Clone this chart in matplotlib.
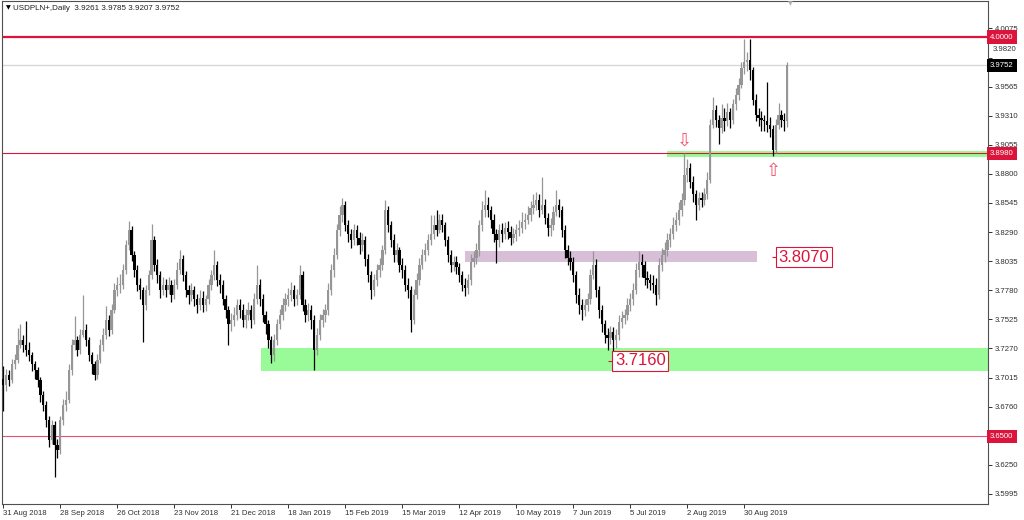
"""
USDPLN+ Daily - candles with support/resistance zones (MT4 look)
"""

import numpy as np
import matplotlib
matplotlib.use('Agg')
import matplotlib.pyplot as plt
from matplotlib.patches import Rectangle
import matplotlib.transforms as mtransforms


# Candle data (daily bars)
first_open = 3.700
closes = [
    3.695, 3.704, 3.699, 3.713, 3.717, 3.730, 3.734, 3.730, 3.726, 3.721,
    3.713, 3.708, 3.699, 3.686, 3.677, 3.664, 3.647, 3.660, 3.642, 3.638,
    3.664, 3.677, 3.682, 3.708, 3.730, 3.734, 3.726, 3.739, 3.743, 3.734,
    3.721, 3.713, 3.704, 3.717, 3.730, 3.739, 3.752, 3.743, 3.761, 3.778,
    3.783, 3.783, 3.796, 3.818, 3.831, 3.809, 3.796, 3.783, 3.778, 3.765,
    3.778, 3.791, 3.822, 3.800, 3.791, 3.778, 3.783, 3.778, 3.783, 3.774,
    3.783, 3.796, 3.805, 3.791, 3.778, 3.774, 3.778, 3.770, 3.765, 3.771,
    3.765, 3.770, 3.783, 3.791, 3.800, 3.787, 3.783, 3.770, 3.761, 3.748,
    3.752, 3.756, 3.765, 3.761, 3.752, 3.756, 3.761, 3.752, 3.770, 3.783,
    3.770, 3.756, 3.748, 3.734, 3.721, 3.734, 3.748, 3.756, 3.765, 3.770,
    3.774, 3.778, 3.770, 3.774, 3.791, 3.765, 3.756, 3.761, 3.752, 3.726,
    3.739, 3.752, 3.756, 3.761, 3.778, 3.796, 3.809, 3.831, 3.844, 3.853,
    3.835, 3.827, 3.822, 3.831, 3.824, 3.818, 3.822, 3.805, 3.791, 3.778,
    3.787, 3.796, 3.800, 3.813, 3.848, 3.835, 3.822, 3.809, 3.813, 3.800,
    3.796, 3.783, 3.778, 3.752, 3.774, 3.787, 3.800, 3.809, 3.813, 3.822,
    3.827, 3.835, 3.831, 3.840, 3.835, 3.822, 3.809, 3.800, 3.803, 3.798,
    3.791, 3.783, 3.780, 3.787, 3.803, 3.806, 3.813, 3.835, 3.848, 3.853,
    3.848, 3.840, 3.827, 3.822, 3.831, 3.827, 3.833, 3.829, 3.824, 3.827,
    3.831, 3.833, 3.838, 3.840, 3.844, 3.850, 3.853, 3.857, 3.848, 3.853,
    3.841, 3.833, 3.835, 3.847, 3.853, 3.848, 3.831, 3.813, 3.806, 3.803,
    3.791, 3.774, 3.765, 3.761, 3.765, 3.770, 3.791, 3.800, 3.778, 3.761,
    3.748, 3.739, 3.736, 3.741, 3.734, 3.739, 3.750, 3.754, 3.756, 3.765,
    3.770, 3.778, 3.796, 3.803, 3.800, 3.789, 3.787, 3.784, 3.783, 3.774,
    3.800, 3.809, 3.813, 3.822, 3.827, 3.835, 3.840, 3.848, 3.857, 3.879,
    3.885, 3.873, 3.862, 3.853, 3.859, 3.857, 3.862, 3.875, 3.923, 3.936,
    3.927, 3.920, 3.929, 3.926, 3.934, 3.927, 3.941, 3.949, 3.958, 3.973,
    3.978, 3.980, 3.971, 3.945, 3.932, 3.929, 3.927, 3.926, 3.923, 3.919,
    3.901, 3.923, 3.932, 3.927, 3.9261, 3.9752,
]
highs = [
    3.712, 3.709, 3.708, 3.718, 3.722, 3.745, 3.748, 3.739, 3.751, 3.733,
    3.724, 3.716, 3.711, 3.702, 3.690, 3.681, 3.668, 3.664, 3.663, 3.648,
    3.668, 3.683, 3.690, 3.713, 3.735, 3.755, 3.738, 3.744, 3.774, 3.748,
    3.737, 3.724, 3.716, 3.722, 3.735, 3.745, 3.764, 3.756, 3.766, 3.784,
    3.790, 3.792, 3.801, 3.822, 3.839, 3.834, 3.812, 3.800, 3.789, 3.781,
    3.783, 3.796, 3.836, 3.826, 3.805, 3.795, 3.790, 3.788, 3.790, 3.787,
    3.788, 3.803, 3.813, 3.809, 3.795, 3.783, 3.784, 3.782, 3.775, 3.778,
    3.777, 3.774, 3.788, 3.796, 3.813, 3.804, 3.792, 3.787, 3.774, 3.764,
    3.758, 3.763, 3.770, 3.770, 3.766, 3.762, 3.768, 3.765, 3.776, 3.800,
    3.788, 3.775, 3.760, 3.752, 3.738, 3.740, 3.753, 3.762, 3.771, 3.776,
    3.780, 3.785, 3.783, 3.779, 3.800, 3.795, 3.770, 3.767, 3.765, 3.756,
    3.745, 3.757, 3.762, 3.766, 3.784, 3.801, 3.815, 3.836, 3.852, 3.859,
    3.856, 3.840, 3.832, 3.836, 3.835, 3.829, 3.828, 3.826, 3.810, 3.795,
    3.792, 3.801, 3.806, 3.818, 3.857, 3.852, 3.839, 3.827, 3.819, 3.816,
    3.806, 3.800, 3.789, 3.782, 3.779, 3.793, 3.806, 3.814, 3.819, 3.827,
    3.844, 3.844, 3.848, 3.845, 3.845, 3.838, 3.826, 3.813, 3.808, 3.808,
    3.802, 3.795, 3.789, 3.792, 3.810, 3.812, 3.819, 3.840, 3.856, 3.866,
    3.860, 3.852, 3.845, 3.832, 3.836, 3.837, 3.838, 3.839, 3.834, 3.833,
    3.836, 3.840, 3.847, 3.846, 3.852, 3.856, 3.862, 3.864, 3.862, 3.877,
    3.858, 3.846, 3.841, 3.852, 3.866, 3.858, 3.852, 3.835, 3.818, 3.812,
    3.807, 3.795, 3.780, 3.770, 3.770, 3.776, 3.797, 3.812, 3.805, 3.782,
    3.765, 3.752, 3.745, 3.747, 3.746, 3.744, 3.756, 3.760, 3.762, 3.771,
    3.776, 3.784, 3.802, 3.812, 3.810, 3.804, 3.795, 3.792, 3.791, 3.789,
    3.806, 3.815, 3.820, 3.828, 3.833, 3.842, 3.847, 3.855, 3.863, 3.898,
    3.893, 3.890, 3.878, 3.866, 3.864, 3.864, 3.868, 3.882, 3.928, 3.947,
    3.940, 3.932, 3.941, 3.938, 3.942, 3.938, 3.946, 3.955, 3.964, 3.978,
    3.998, 3.987, 3.998, 3.974, 3.950, 3.938, 3.935, 3.932, 3.961, 3.930,
    3.923, 3.928, 3.942, 3.936, 3.933, 3.9785,
]
lows = [
    3.672, 3.690, 3.694, 3.697, 3.709, 3.714, 3.727, 3.724, 3.720, 3.716,
    3.707, 3.700, 3.693, 3.680, 3.672, 3.658, 3.641, 3.643, 3.614, 3.631,
    3.634, 3.660, 3.672, 3.679, 3.704, 3.726, 3.720, 3.722, 3.737, 3.729,
    3.716, 3.705, 3.699, 3.700, 3.714, 3.725, 3.735, 3.738, 3.740, 3.758,
    3.773, 3.776, 3.779, 3.792, 3.813, 3.804, 3.790, 3.777, 3.770, 3.733,
    3.761, 3.774, 3.788, 3.795, 3.784, 3.771, 3.774, 3.772, 3.775, 3.768,
    3.770, 3.779, 3.792, 3.786, 3.772, 3.766, 3.769, 3.764, 3.758, 3.761,
    3.759, 3.760, 3.766, 3.778, 3.787, 3.782, 3.776, 3.765, 3.754, 3.730,
    3.742, 3.747, 3.752, 3.754, 3.746, 3.745, 3.752, 3.745, 3.748, 3.766,
    3.764, 3.750, 3.740, 3.727, 3.714, 3.716, 3.730, 3.744, 3.752, 3.760,
    3.764, 3.769, 3.764, 3.765, 3.770, 3.760, 3.750, 3.751, 3.744, 3.708,
    3.721, 3.734, 3.746, 3.750, 3.756, 3.774, 3.790, 3.805, 3.826, 3.838,
    3.830, 3.820, 3.815, 3.818, 3.818, 3.810, 3.812, 3.799, 3.785, 3.770,
    3.773, 3.782, 3.790, 3.796, 3.810, 3.829, 3.816, 3.803, 3.803, 3.794,
    3.789, 3.777, 3.771, 3.741, 3.748, 3.770, 3.783, 3.797, 3.804, 3.809,
    3.818, 3.823, 3.826, 3.828, 3.829, 3.817, 3.803, 3.794, 3.795, 3.792,
    3.785, 3.777, 3.773, 3.775, 3.783, 3.798, 3.801, 3.808, 3.830, 3.842,
    3.842, 3.833, 3.820, 3.802, 3.816, 3.820, 3.823, 3.823, 3.818, 3.819,
    3.821, 3.826, 3.828, 3.832, 3.836, 3.839, 3.845, 3.848, 3.842, 3.845,
    3.836, 3.826, 3.826, 3.831, 3.843, 3.842, 3.825, 3.806, 3.800, 3.796,
    3.785, 3.767, 3.757, 3.752, 3.755, 3.760, 3.766, 3.788, 3.772, 3.754,
    3.741, 3.732, 3.726, 3.731, 3.724, 3.727, 3.734, 3.745, 3.748, 3.752,
    3.760, 3.765, 3.775, 3.790, 3.790, 3.783, 3.780, 3.778, 3.776, 3.765,
    3.770, 3.795, 3.803, 3.808, 3.816, 3.823, 3.830, 3.835, 3.843, 3.853,
    3.873, 3.868, 3.855, 3.840, 3.848, 3.851, 3.853, 3.858, 3.872, 3.920,
    3.921, 3.906, 3.916, 3.918, 3.922, 3.920, 3.924, 3.936, 3.945, 3.955,
    3.968, 3.970, 3.962, 3.940, 3.926, 3.922, 3.918, 3.918, 3.917, 3.912,
    3.896, 3.898, 3.919, 3.921, 3.918, 3.9207,
]

# Date labels (every 20 bars)
date_labels = ['31 Aug 2018', '28 Sep 2018', '26 Oct 2018', '23 Nov 2018', '21 Dec 2018',
               '18 Jan 2019', '15 Feb 2019', '15 Mar 2019', '12 Apr 2019', '10 May 2019',
               '7 Jun 2019', '5 Jul 2019', '2 Aug 2019', '30 Aug 2019']
price_ticks = [3.5995, 3.6250, 3.6760, 3.7015, 3.7270, 3.7525, 3.7780, 3.8035,
               3.8290, 3.8545, 3.8800, 3.9055, 3.9310, 3.9565, 3.9820, 4.0075]

# Horizontal levels
level_top = 4.0000
level_mid = 3.8980
level_low = 3.6500
last_price = 3.9752

# Zones: (start bar, end bar, low price, high price)
green_zone = (90.4, 400, 3.7072, 3.7274)
purple_zone = (162.0, 264.5, 3.8028, 3.8125)
green_line_zone = (232.9, 400, 3.8952, 3.9005)

# Price labels on chart: (bar, price)
label_a = (269.7, 3.8070)
label_b = (212.2, 3.7160)

RED = '#dc143c'
FONT = ['Liberation Sans', 'DejaVu Sans']
plt.rcParams['font.family'] = FONT

closes = np.array(closes)
highs = np.array(highs)
lows = np.array(lows)
opens = np.concatenate([[first_open], closes[:-1]])
idx = np.arange(len(closes))

fig = plt.figure(figsize=(10.24, 5.2), dpi=100)
ax = fig.add_axes([2 / 1024, 16 / 520, 986 / 1024, 503 / 520])
ax.set_xlim(-0.46, 345.5)
ax.set_ylim(3.5906, 4.0316)

# Zones
for (x0, x1, y0, y1), col in [(green_zone, '#98fb98'), (purple_zone, '#d8bfd8'),
                              (green_line_zone, '#98fb98')]:
    ax.add_patch(Rectangle((x0, y0), x1 - x0, y1 - y0, facecolor=col, edgecolor='none', zorder=0))

# Levels
ax.axhline(level_top, color=RED, lw=1.6, zorder=1)
ax.axhline(level_mid, color=RED, lw=0.8, zorder=1)
ax.axhline(level_low, color='#e8506e', lw=0.8, zorder=1)
ax.axhline(last_price, color='#d8d8d8', lw=1.0, zorder=1)

# Candles
up = closes >= opens
cols = np.where(up, '#969696', '#000000')
ax.vlines(idx, lows, highs, colors=cols, lw=0.9, zorder=2)
body_low = np.minimum(opens, closes)
body_h = np.maximum(np.abs(closes - opens), 0.0007)
ax.bar(idx, body_h, bottom=body_low, width=0.8, color=cols, linewidth=0, zorder=3)

# Arrows
ax.text(239, 3.9095, '\u21e9', color='#f0506a', fontsize=13, ha='center', va='center',
        family='DejaVu Sans', zorder=4)
ax.text(270.2, 3.8822, '\u21e7', color='#f0506a', fontsize=13, ha='center', va='center',
        family='DejaVu Sans', zorder=4)

# Price labels with little dash
for bx, lvl in [label_a, label_b]:
    ax.hlines(lvl, bx, bx + 2.3, color=RED, lw=0.8, zorder=4)
    ax.text(bx + 2.4, lvl, f'{lvl:.4f}', color=RED, fontsize=12, ha='left', va='center',
            bbox=dict(boxstyle='square,pad=0.16', facecolor='white', edgecolor=RED, lw=0.8),
            zorder=5)

# Axes styling
for sp in ax.spines.values():
    sp.set_color('#505050')
    sp.set_linewidth(0.8)

ax.yaxis.tick_right()
ax.set_yticks(price_ticks)
ax.set_yticklabels([f'{p:.4f}' if p != 3.9820 else '' for p in price_ticks])
ax.tick_params(axis='y', direction='out', length=3, width=0.7, colors='#303030',
               labelsize=5.6, pad=2)

ax.set_xticks(np.arange(0, 20 * len(date_labels), 20))
ax.set_xticklabels(date_labels)
ax.tick_params(axis='x', direction='out', length=3, width=0.7, colors='#303030',
               labelsize=5.6, pad=1.5)
for lbl in ax.get_xticklabels():
    lbl.set_ha('left')

# shifted tick label (MT4 moves it away from the price box)
trans = mtransforms.blended_transform_factory(ax.transAxes, ax.transData)
ax.text(1.0045, 3.9890, '3.9820', transform=trans, fontsize=5.6, color='#303030',
        va='center', ha='left')

# Right-side price boxes
for lvl, bg in [(level_top, RED), (last_price, 'black'), (level_mid, RED), (level_low, RED)]:
    ax.text(1.0022, lvl, f'{lvl:.4f}', transform=trans, fontsize=5.6, color='white',
            va='center', ha='left', clip_on=False, zorder=6,
            bbox=dict(boxstyle='square,pad=0.4', facecolor=bg, edgecolor='none'))

# Title
fig.text(6 / 1024, 1 - 8 / 520, '\u25bc', fontsize=4.5, va='center', ha='left',
         family='DejaVu Sans')
fig.text(13 / 1024, 1 - 8 / 520, 'USDPLN+,Daily  3.9261 3.9785 3.9207 3.9752',
         fontsize=5.8, va='center', ha='left', color='#202020')
fig.text(790 / 1024, 1 - 4 / 520, '\u25bc', fontsize=4.5, va='center', ha='center',
         color='#b0b0b0', family='DejaVu Sans')

fig.savefig('out.png', dpi=100)
